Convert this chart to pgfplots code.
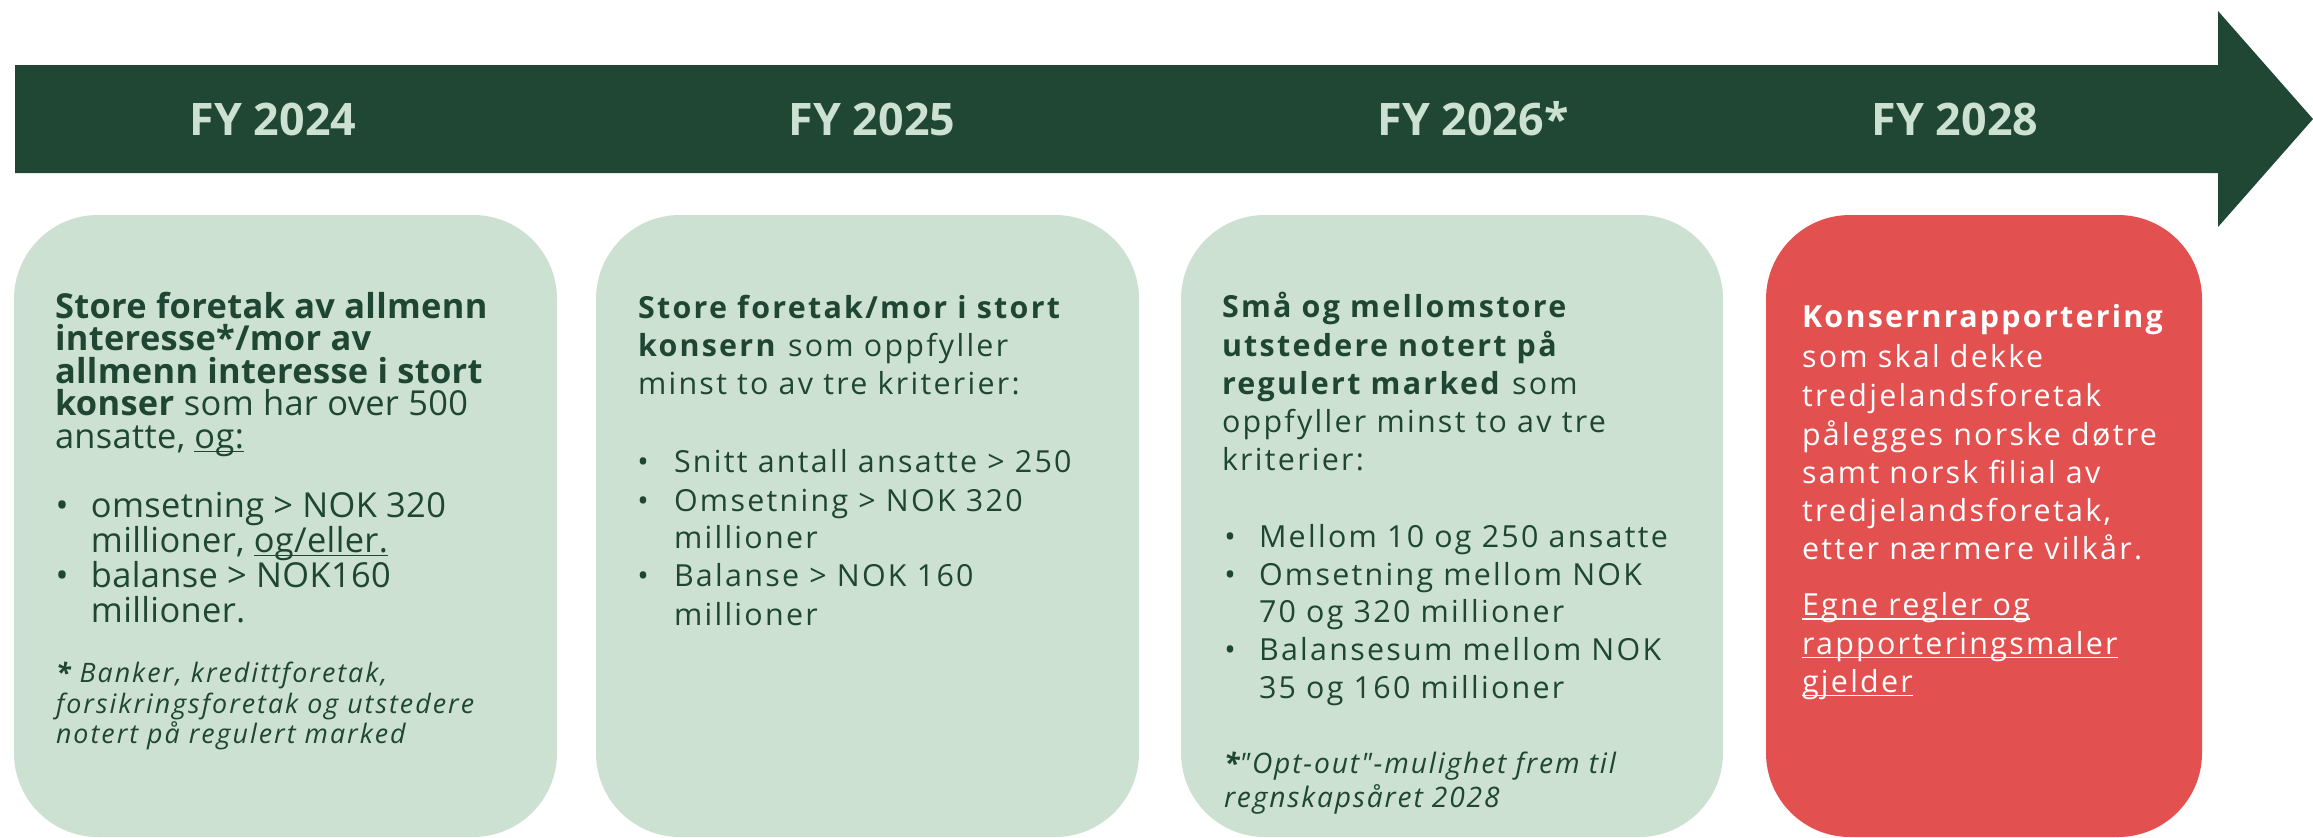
\documentclass[border=0pt]{standalone}
\usepackage{pgfplots}
\pgfplotsset{compat=1.18}
\usepackage{fontspec}
\setmainfont{Open Sans}
\newfontfamily\fA{Open Sans}[LetterSpace=1]
\newfontfamily\fB{Open Sans}[LetterSpace=7.5]
\newfontfamily\fN{Open Sans}[LetterSpace=7.5]
\newfontfamily\fM{Open Sans}[LetterSpace=6.5]
\definecolor{band}{RGB}{32,71,52}
\definecolor{lightg}{RGB}{204,225,209}
\definecolor{redbox}{RGB}{227,80,80}
\definecolor{txt}{RGB}{30,70,50}
\newcommand{\ul}[1]{\setbox0\hbox{#1}\rlap{\rule[-1.1pt]{\wd0}{0.45pt}}\box0}
\tikzset{
  ln/.style={anchor=base west, inner sep=0pt, outer sep=0pt},
  bu/.style={anchor=base, inner sep=0pt, outer sep=0pt},
  bA/.style={text=txt, font=\fA\fontsize{8.6}{10}\selectfont},
  bB/.style={text=txt, font=\fB\fontsize{7.6}{9}\selectfont},
  bW/.style={text=white, font=\fB\fontsize{7.6}{9}\selectfont},
  fA/.style={text=txt, font=\fN\itshape\fontsize{6.7}{8}\selectfont},
  fB/.style={text=txt, font=\fM\itshape\fontsize{7.05}{8}\selectfont},
  yr/.style={text=lightg, font=\fontsize{11.2}{13}\selectfont\bfseries}
}
\begin{document}
\begin{tikzpicture}
\begin{axis}[scale only axis, width=578.25pt, height=209.25pt,
  xmin=0, xmax=2313, ymin=0, ymax=837, y dir=reverse,
  axis lines=none, ticks=none, clip=false]
% full frame (invisible) so that the picture keeps the reference size
\addplot[draw=none, fill=none] coordinates {(0,0) (2313,0) (2313,837) (0,837)} -- cycle;
% timeline arrow
\addplot[fill=band, draw=none] coordinates {(15,65) (2218,65) (2218,11) (2313,119) (2218,227) (2218,173) (15,173)} -- cycle;
% boxes
\addplot[fill=lightg, draw=none, rounded corners=21pt] coordinates {(14,215) (557,215) (557,837) (14,837)} -- cycle;
\addplot[fill=lightg, draw=none, rounded corners=21pt] coordinates {(596,215) (1139,215) (1139,837) (596,837)} -- cycle;
\addplot[fill=lightg, draw=none, rounded corners=21pt] coordinates {(1181,215) (1723,215) (1723,837) (1181,837)} -- cycle;
\addplot[fill=redbox, draw=none, rounded corners=21pt] coordinates {(1766,215) (2202,215) (2202,837) (1766,837)} -- cycle;
% year labels
\node[yr] at (axis cs:273,119) {FY 2024};
\node[yr] at (axis cs:872,119) {FY 2025};
\node[yr] at (axis cs:1473,119) {FY 2026*};
\node[yr] at (axis cs:1955,119) {FY 2028};
% ---- box 1
\node[ln,bA] at (axis cs:55,318) {\bfseries Store foretak av allmenn};
\node[ln,bA] at (axis cs:55,350.5) {\bfseries interesse*/mor av};
\node[ln,bA] at (axis cs:55,383) {\bfseries allmenn interesse i stort};
\node[ln,bA] at (axis cs:55,415.5) {\textbf{konser} som har over 500};
\node[ln,bA] at (axis cs:55,448) {ansatte, \ul{og:}};
\node[bu,bA] at (axis cs:62,517) {•};
\node[ln,bA] at (axis cs:91,517) {omsetning > NOK 320};
\node[ln,bA] at (axis cs:91,552) {millioner, \ul{og/eller.}};
\node[bu,bA] at (axis cs:62,587) {•};
\node[ln,bA] at (axis cs:91,587) {balanse > NOK160};
\node[ln,bA] at (axis cs:91,622) {millioner.};
\node[ln,fA] at (axis cs:56,682) {\textbf{*} Banker, kredittforetak,};
\node[ln,fA] at (axis cs:56,713) {forsikringsforetak og utstedere};
\node[ln,fA] at (axis cs:56,743) {notert på regulert marked};
% ---- box 2
\node[ln,bB] at (axis cs:638,318) {\bfseries Store foretak/mor i stort};
\node[ln,bB] at (axis cs:638,356) {\textbf{konsern} som oppfyller};
\node[ln,bB] at (axis cs:638,394) {minst to av tre kriterier:};
\node[bu,bB] at (axis cs:643,472.7) {•};
\node[ln,bB] at (axis cs:674,472.7) {Snitt antall ansatte > 250};
\node[bu,bB] at (axis cs:643,511) {•};
\node[ln,bB] at (axis cs:674,511) {Omsetning > NOK 320};
\node[ln,bB] at (axis cs:674,548.5) {millioner};
\node[bu,bB] at (axis cs:643,586.7) {•};
\node[ln,bB] at (axis cs:674,586.7) {Balanse > NOK 160};
\node[ln,bB] at (axis cs:674,625) {millioner};
% ---- box 3
\node[ln,bB] at (axis cs:1222,317.7) {\bfseries Små og mellomstore};
\node[ln,bB] at (axis cs:1222,356) {\bfseries utstedere notert på};
\node[ln,bB] at (axis cs:1222,394) {\textbf{regulert marked} som};
\node[ln,bB] at (axis cs:1222,432.5) {oppfyller minst to av tre};
\node[ln,bB] at (axis cs:1222,470.5) {kriterier:};
\node[bu,bB] at (axis cs:1230,547) {•};
\node[ln,bB] at (axis cs:1259,547) {Mellom 10 og 250 ansatte};
\node[bu,bB] at (axis cs:1230,585) {•};
\node[ln,bB] at (axis cs:1259,585) {Omsetning mellom NOK};
\node[ln,bB] at (axis cs:1259,622.5) {70 og 320 millioner};
\node[bu,bB] at (axis cs:1230,660) {•};
\node[ln,bB] at (axis cs:1259,660) {Balansesum mellom NOK};
\node[ln,bB] at (axis cs:1259,698) {35 og 160 millioner};
\node[ln,fB] at (axis cs:1224,773) {\textbf{*}"Opt-out"-mulighet frem til};
\node[ln,fB] at (axis cs:1224,807) {regnskapsåret 2028};
% ---- box 4
\node[ln,bW] at (axis cs:1802,327.7) {\bfseries Konsernrapportering};
\node[ln,bW] at (axis cs:1802,367.7) {som skal dekke};
\node[ln,bW] at (axis cs:1802,406.7) {tredjelandsforetak};
\node[ln,bW] at (axis cs:1802,445.7) {pålegges norske døtre};
\node[ln,bW] at (axis cs:1802,483.5) {samt norsk filial av};
\node[ln,bW] at (axis cs:1802,521.5) {tredjelandsforetak,};
\node[ln,bW] at (axis cs:1802,559.5) {etter nærmere vilkår.};
\node[ln,bW] at (axis cs:1802,615.5) {\ul{Egne regler og}};
\node[ln,bW] at (axis cs:1802,654) {\ul{rapporteringsmaler}};
\node[ln,bW] at (axis cs:1802,692) {\ul{gjelder}};
\end{axis}
\end{tikzpicture}
\end{document}
